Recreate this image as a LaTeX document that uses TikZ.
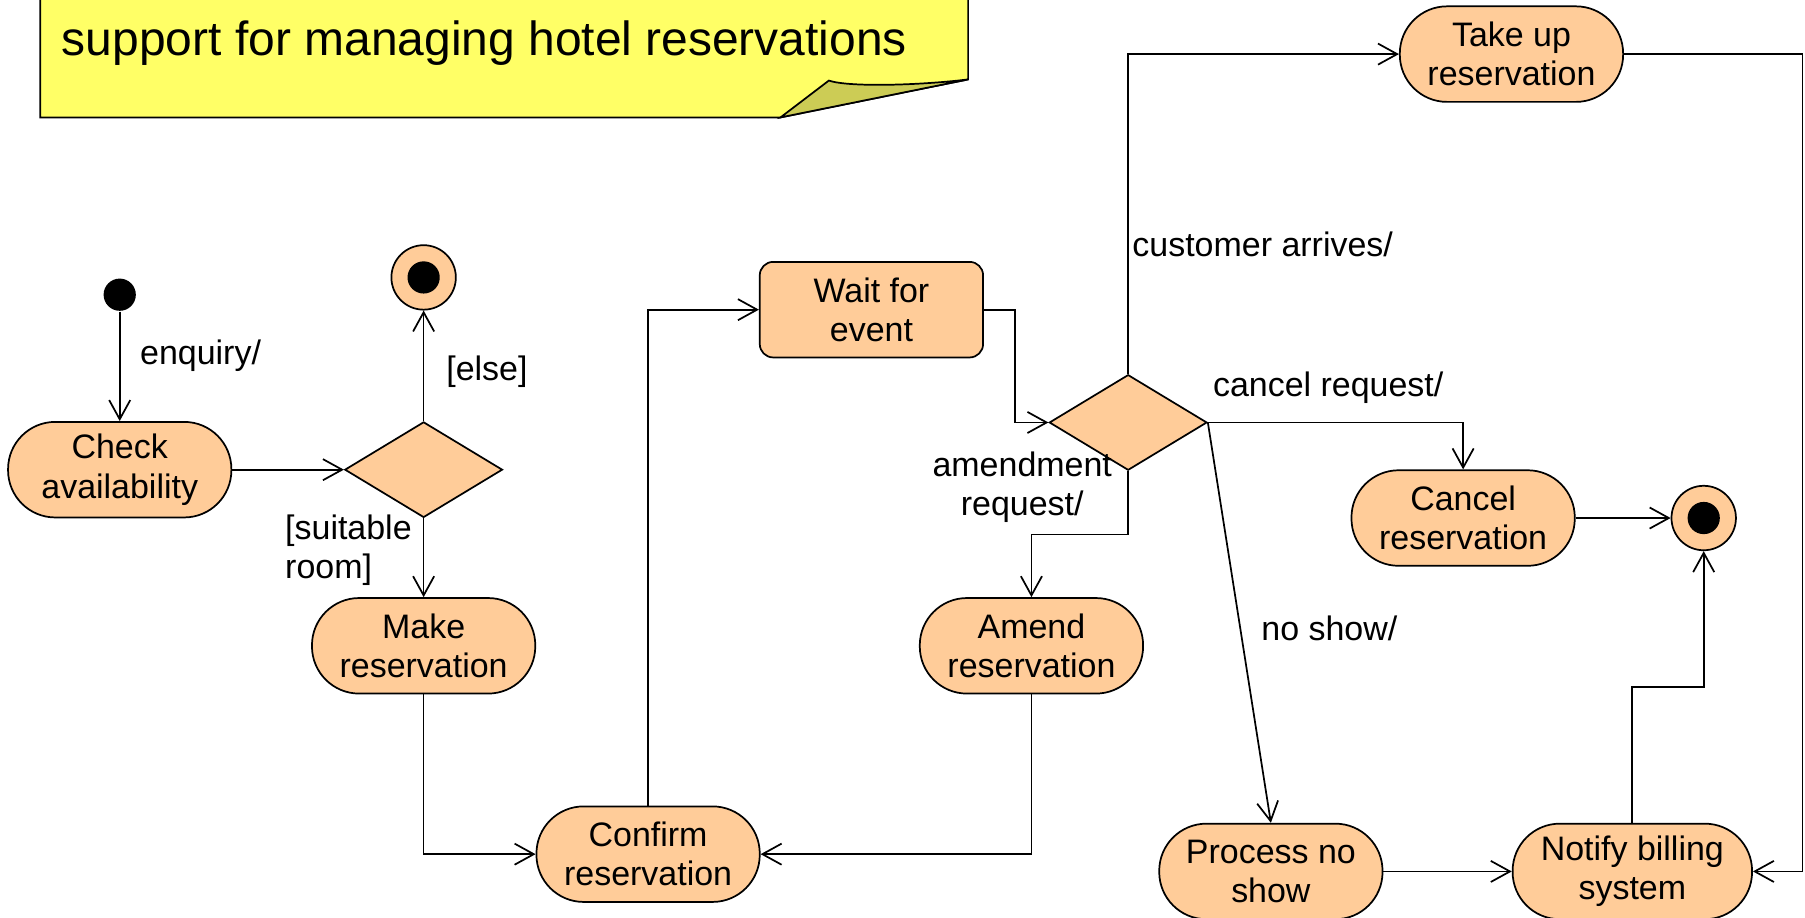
\documentclass[tikz,border=0pt]{standalone}
\usepackage{fontspec}
\setmainfont{Liberation Sans}
\usetikzlibrary{arrows.meta,shapes.geometric}
\definecolor{peach}{HTML}{FFCC99}
\definecolor{notey}{HTML}{FFFF66}
\definecolor{flapc}{HTML}{CCCC55}
\newcommand\actfont{\fontsize{17.7}{20.4}\selectfont}
\newcommand\notefont{\fontsize{25}{30}\selectfont}
\begin{document}
\begin{tikzpicture}[x=0.6pt,y=-0.6pt,line width=0.9pt,
  act/.style={draw,fill=peach,minimum width=116.4pt,minimum height=49.8pt,
    rounded corners=24.6pt,align=center,inner sep=0pt,font=\actfont},
  waitbox/.style={act,rounded corners=7pt},
  choice/.style={draw,fill=peach,diamond,inner sep=0pt,
    minimum width=82.2pt,minimum height=49.8pt},
  startdot/.style={circle,fill=black,inner sep=0pt,minimum size=16.8pt},
  enddot/.style={circle,draw,fill=peach,inner sep=0pt,minimum size=33.6pt},
  enddotin/.style={circle,fill=black,inner sep=0pt,minimum size=16.8pt},
  flow/.style={-{Straight Barb[length=10pt,width=11pt]}},
  lbl/.style={font=\actfont,inner sep=0pt,align=left}]
\useasboundingbox (0,0) rectangle (1568,797);

% note in the upper left corner
\draw[fill=notey] (35,-10) -- (35,102) -- (678,102) -- (841,69) -- (841,-10);
\draw[fill=flapc] (678,102) -- (720,70) .. controls (738,76) and (800,74) .. (841,69) -- cycle;
\node[anchor=base west,inner sep=0pt,font=\notefont] (notetext) at (53,48)
  {support for managing hotel reservations};

% states
\node[startdot] (start) at (104,256) {};
\node[act] (check) at (104,408) {Check\\availability};
\node[choice] (d1) at (368,408) {};
\node[enddot] (end1) at (368,241) {};
\node[enddotin] (end1in) at (368,241) {};
\node[act] (make) at (368,561) {Make\\reservation};
\node[act] (confirm) at (563,742) {Confirm\\reservation};
\node[waitbox] (wait) at (757,269) {Wait for\\event};
\node[choice] (d2) at (980,367) {};
\node[act] (take) at (1313,47) {Take up\\reservation};
\node[act] (cancel) at (1271,450) {Cancel\\reservation};
\node[enddot] (end2) at (1480,450) {};
\node[enddotin] (end2in) at (1480,450) {};
\node[act] (amend) at (896,561) {Amend\\reservation};
\node[act] (noshow) at (1104,757) {Process no\\show};
\node[act,minimum width=124.8pt] (notify) at (1418,757) {Notify billing\\system};

% transitions
\draw[flow] (start) -- (check.north);
\draw[flow] (check.east) -- (d1.west);
\draw[flow] (d1.north) -- (end1.south);
\draw[flow] (d1.south) -- (make.north);
\draw[flow] (make.south) |- (confirm.west);
\draw[flow] (amend.south) |- (confirm.east);
\draw[flow] (confirm.north) |- (wait.west);
\draw[flow] (wait.east) -- ++(27,0) |- (d2.west);
\draw[flow] (d2.north) |- (take.west);
\draw[flow] (d2.east) -| (cancel.north);
\draw[flow] (d2.south) -- ++(0,55) -| (amend.north);
\draw[flow] (d2.east) -- (noshow.north);
\draw[flow] (cancel.east) -- (end2.west);
\draw[flow] (take.east) -- ++(155,0) |- (notify.east);
\draw[flow] (noshow.east) -- (notify.west);
\draw[flow] (notify.north) -- ++(0,-118) -| (end2.south);

% transition labels
\node[lbl,anchor=west] (l1) at (121,309) {enquiry/};
\node[lbl,anchor=west] (l2) at (387,323) {[else]};
\node[lbl,anchor=west] (l3) at (247,478) {[suitable\\room]};
\node[lbl,anchor=west] (l4) at (983,212) {customer arrives/};
\node[lbl,anchor=west] (l5) at (1053,337) {cancel request/};
\node[lbl,align=center] (l6) at (888,423) {amendment\\request/};
\node[lbl,anchor=west] (l7) at (1095,546) {no show/};
\end{tikzpicture}
\end{document}
